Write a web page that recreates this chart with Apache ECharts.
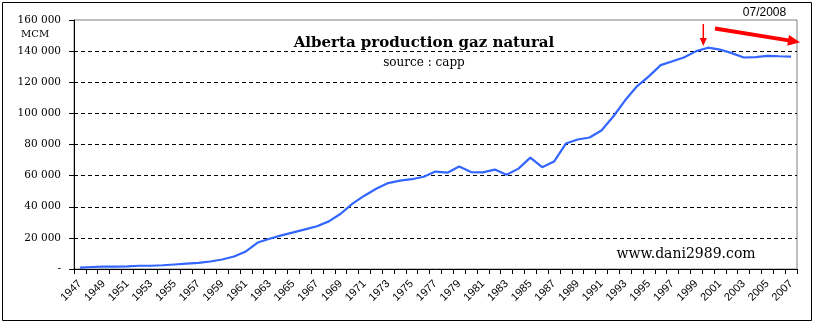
<!DOCTYPE html>
<html><head><meta charset="utf-8">
<script src="https://cdn.jsdelivr.net/npm/echarts@6/dist/echarts.min.js"></script>
<style>html,body{margin:0;padding:0;background:#fff}#c{width:815px;height:325px}</style>
</head><body><div id="c"></div>
<script>
var years = [1947,1948,1949,1950,1951,1952,1953,1954,1955,1956,1957,1958,1959,1960,1961,1962,1963,1964,1965,1966,1967,1968,1969,1970,1971,1972,1973,1974,1975,1976,1977,1978,1979,1980,1981,1982,1983,1984,1985,1986,1987,1988,1989,1990,1991,1992,1993,1994,1995,1996,1997,1998,1999,2000,2001,2002,2003,2004,2005,2006,2007];
var production = [850,1300,1500,1500,1700,2100,2100,2400,2900,3400,3900,4800,6100,8000,11300,17000,19400,21600,23500,25500,27500,30600,35500,42000,47100,51600,55200,56800,57700,59300,62600,61900,65800,62300,62100,63900,60600,64500,71600,65400,69000,80600,83200,84500,89000,98000,108400,117400,123800,131000,133500,136100,140000,142200,141000,138700,135900,136100,137000,136700,136500];
var yTicks = {min: 0, max: 160000, step: 20000};
var titleText = 'Alberta production gaz natural';
var subtitleText = 'source : capp';
var unitText = 'MCM';
var dateText = '07/2008';
var siteText = 'www.dani2989.com';

function fmt(v){ if(v===0) return '-'; var s=String(v); return s.replace(/\B(?=(\d{3})+(?!\d))/g,' '); }

var chart = echarts.init(document.getElementById('c'), null, {renderer:'canvas'});
chart.setOption({
  backgroundColor:'#fff',
  animation:false,
  grid:{left:74, top:20, right:18, bottom:56, show:true, borderColor:'#808080', borderWidth:1, backgroundColor:'#fff'},
  xAxis:{type:'category', data:years.map(String), boundaryGap:true,
    axisLine:{lineStyle:{color:'#000', width:1}},
    axisTick:{show:true, interval:0, length:5, lineStyle:{color:'#000'}},
    axisLabel:{interval:1, rotate:45, margin:13, fontFamily:'Liberation Sans', fontSize:11, color:'#000'},
    splitLine:{show:false}},
  yAxis:{type:'value', min:yTicks.min, max:yTicks.max, interval:yTicks.step,
    axisLine:{show:true, lineStyle:{color:'#000', width:1}},
    axisTick:{show:true, length:5, lineStyle:{color:'#000'}},
    axisLabel:{formatter:fmt, margin:13, fontFamily:'DejaVu Serif', fontSize:10.5, color:'#000'},
    splitLine:{show:true, showMinLine:false, showMaxLine:false, lineStyle:{color:'#000', type:[4,3], width:1}}},
  series:[{type:'line', data:production, symbol:'none', smooth:false,
    lineStyle:{color:'#3366ff', width:2.2}, itemStyle:{color:'#3366ff'}}],
  graphic:[
    {type:'rect', shape:{x:2.5,y:2.5,width:809,height:318}, style:{fill:null, stroke:'#000', lineWidth:1}, z:-1},
    {type:'text', x:424, y:43.5, style:{text:titleText, font:'bold 15px "DejaVu Serif"', fill:'#000', textAlign:'center', textVerticalAlign:'middle'}},
    {type:'text', x:424, y:63, style:{text:subtitleText, font:'12px "DejaVu Serif"', fill:'#000', textAlign:'center', textVerticalAlign:'middle'}},
    {type:'text', x:21, y:34.5, style:{text:unitText, font:'10px "DejaVu Serif"', fill:'#000', textAlign:'left', textVerticalAlign:'middle'}},
    {type:'text', x:764.5, y:12.5, style:{text:dateText, font:'12px "Liberation Sans"', fill:'#000', textAlign:'center', textVerticalAlign:'middle'}},
    {type:'text', x:686, y:254.5, style:{text:siteText, font:'14px "DejaVu Serif"', fill:'#000', textAlign:'center', textVerticalAlign:'middle'}},
    {type:'line', shape:{x1:703.3,y1:24,x2:703.3,y2:40}, style:{stroke:'#ff0000', lineWidth:1.5}},
    {type:'polygon', shape:{points:[[703.3,46],[699.8,38],[706.8,38]]}, style:{fill:'#ff0000'}},
    {type:'line', shape:{x1:715,y1:28.5,x2:790,y2:40.6}, style:{stroke:'#ff0000', lineWidth:4}},
    {type:'polygon', shape:{points:[[800,42.3],[787.2,45.8],[789,35]]}, style:{fill:'#ff0000'}}
  ]
});
</script></body></html>
